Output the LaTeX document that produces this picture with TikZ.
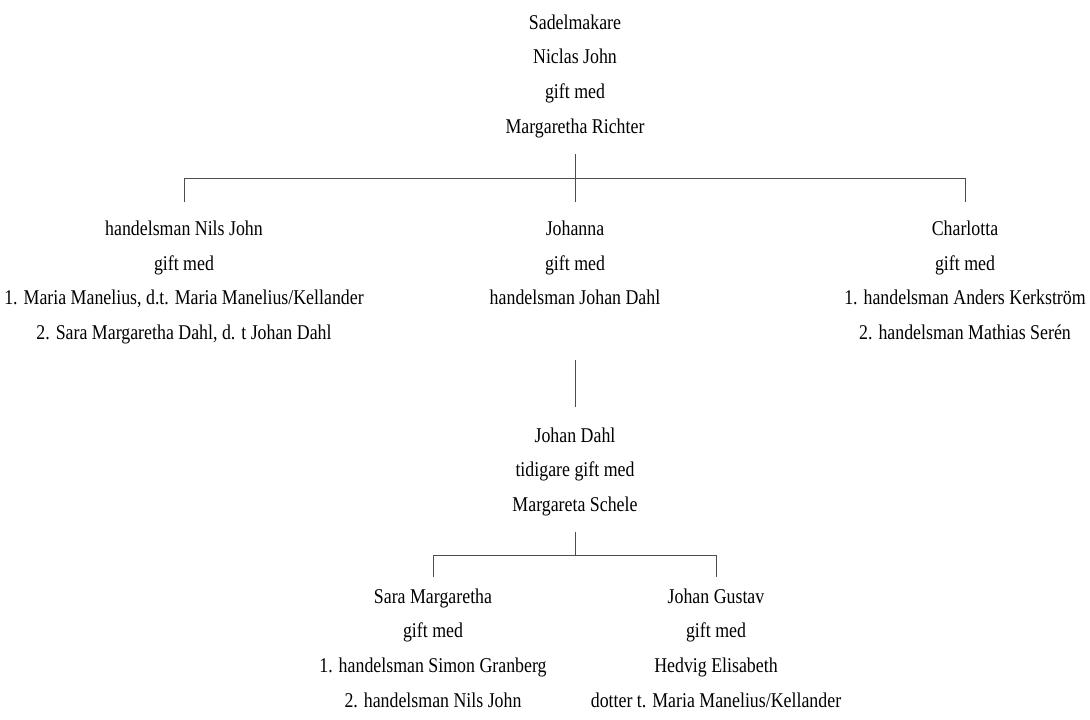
\documentclass[tikz,border=0pt]{standalone}
\usepackage{fontspec}
\setmainfont{Liberation Serif}[FakeStretch=0.85]
\begin{document}
\begin{tikzpicture}[x=1pt,y=-1pt,
  person/.style={align=center, anchor=north, inner sep=0pt, font=\fontsize{21}{34.6}\selectfont},
  conn/.style={draw=black!70, line width=0.9pt}]
\useasboundingbox (0,0) rectangle (1090,720);
\node[person] (top) at (575,4.8) {\strut Sadelmakare\\Niclas John\\gift med\\Margaretha Richter\strut};
\node[person] (nils) at (184,211.3) {\strut handelsman Nils John\\gift med\\1. Maria Manelius, d.t. Maria Manelius/Kellander\\2. Sara Margaretha Dahl, d. t Johan Dahl\strut};
\node[person] (johanna) at (575,211.3) {\strut Johanna\\gift med\\handelsman Johan Dahl\strut};
\node[person] (charlotta) at (965,211.3) {\strut Charlotta\\gift med\\1. handelsman Anders Kerkström\\2. handelsman Mathias Serén\strut};
\node[person] (dahl) at (575,417.8) {\strut Johan Dahl\\tidigare gift med\\Margareta Schele\strut};
\node[person] (sara) at (433,578.8) {\strut Sara Margaretha\\gift med\\1. handelsman Simon Granberg\\2. handelsman Nils John\strut};
\node[person] (gustav) at (716,578.8) {\strut Johan Gustav\\gift med\\Hedvig Elisabeth\\dotter t. Maria Manelius/Kellander\strut};
\coordinate (bar1) at (575,178);
\coordinate (bar2) at (575,555);
\draw[conn] ([yshift=-10.8pt]top.south) -- ([yshift=9.3pt]johanna.north);
\draw[conn] ([yshift=9.3pt]nils.north) -- (nils.north |- bar1) -- (charlotta.north |- bar1) -- ([yshift=9.3pt]charlotta.north);
\draw[conn] ([yshift=-44.9pt]johanna.south) -- ([yshift=10.8pt]dahl.north);
\draw[conn] ([yshift=-10.4pt]dahl.south) -- (bar2);
\draw[conn] ([yshift=1.8pt]sara.north) -- (sara.north |- bar2) -- (gustav.north |- bar2) -- ([yshift=1.8pt]gustav.north);
\end{tikzpicture}
\end{document}
